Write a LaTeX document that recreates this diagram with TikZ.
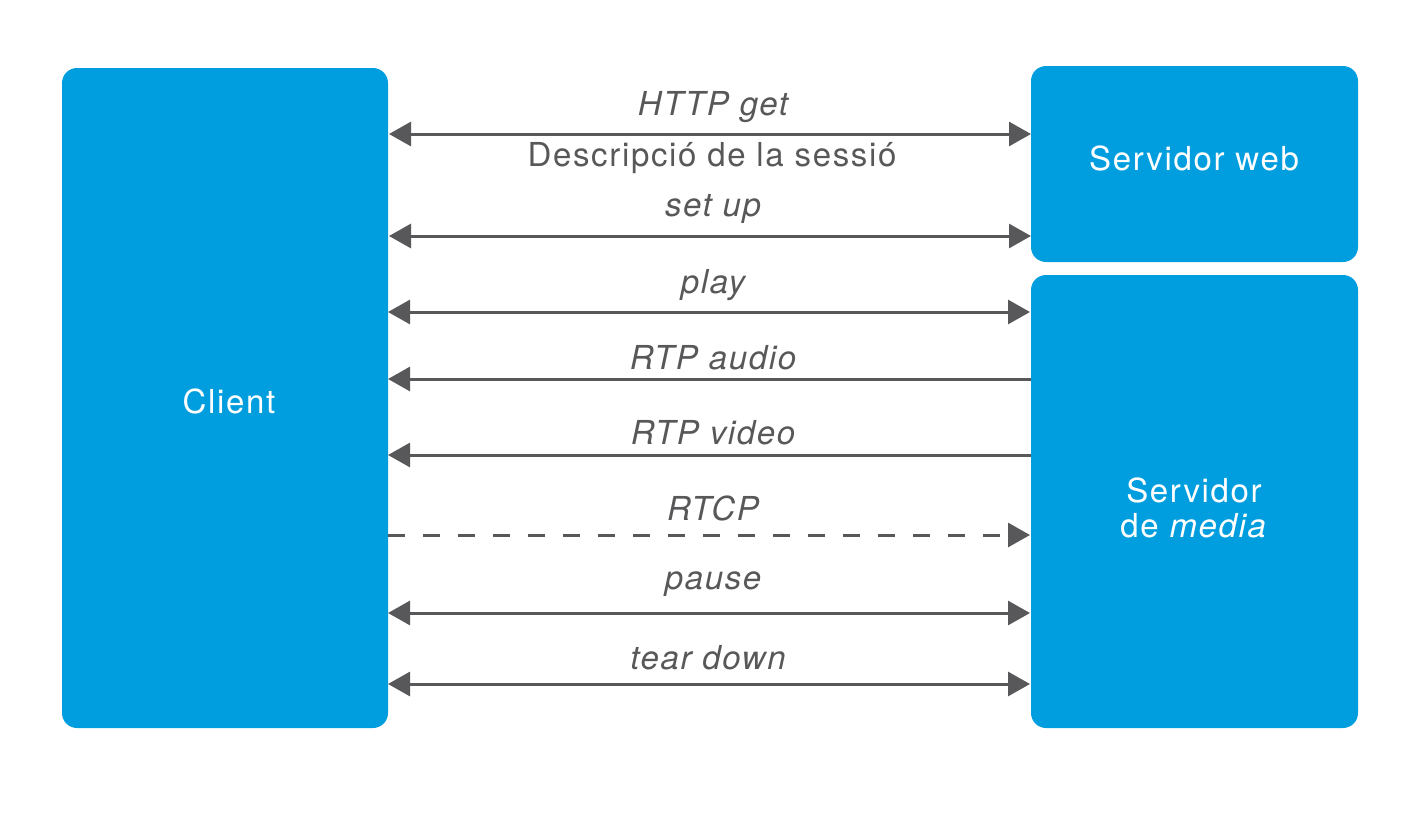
\documentclass[tikz,border=0pt]{standalone}
\usepackage{fontspec}
\setmainfont{TeX Gyre Heros}[LetterSpace=5]
\usetikzlibrary{arrows.meta}
\definecolor{boxblue}{RGB}{0,158,222}
\definecolor{arrgray}{RGB}{88,88,90}
\tikzset{
  box/.style={fill=boxblue, rounded corners=15pt, draw=none},
  boxtext/.style={text=white, font=\fontsize{33}{39}\selectfont, align=center},
  lbl/.style={text=arrgray, font=\fontsize{33}{39}\selectfont\itshape, inner sep=0pt},
  lblu/.style={text=arrgray, font=\fontsize{33}{39}\selectfont, inner sep=0pt},
  tip/.tip={Triangle[length=22pt,width=24pt]},
  link/.style={draw=arrgray, line width=3pt},
  both/.style={link, tip-tip},
  toleft/.style={link, tip-},
  toright/.style={link, -tip},
}
\begin{document}
\begin{tikzpicture}[x=1pt,y=-1pt]
\useasboundingbox (0,0) rectangle (1417,814);
% boxes
\path[box] (62,68) rectangle (388,728);
\path[box] (1031,66) rectangle (1358,262);
\path[box] (1031,275) rectangle (1358,728);
\node[boxtext] (client) at (229,401) {Client};
\node[boxtext] (web) at (1194,158) {Servidor web};
\node[boxtext] (media) at (1194,508) {Servidor\\[-4pt]de \textit{media}};
% anchor coordinates
\coordinate (cl1) at (389,134); \coordinate (cr1) at (1031,134);
\coordinate (cl2) at (389,236); \coordinate (cr2) at (1031,236);
\coordinate (cl3) at (388,312); \coordinate (cr3) at (1030,312);
\coordinate (cl4) at (388,379); \coordinate (cr4) at (1031,379);
\coordinate (cl5) at (388,455); \coordinate (cr5) at (1031,455);
\coordinate (cl6) at (388,535); \coordinate (cr6) at (1030,535);
\coordinate (cl7) at (388,613); \coordinate (cr7) at (1030,613);
\coordinate (cl8) at (388,684); \coordinate (cr8) at (1030,684);
\draw[both] (cl1) -- (cr1);
\draw[both] (cl2) -- (cr2);
\draw[both] (cl3) -- (cr3);
\draw[toleft] (cl4) -- (cr4);
\draw[toleft] (cl5) -- (cr5);
\draw[toright, dash pattern=on 17pt off 18pt] (cl6) -- (cr6);
\draw[both] (cl7) -- (cr7);
\draw[both] (cl8) -- (cr8);
% labels
\node[lbl] (l1) at (713,107) {HTTP get};
\node[lblu] (l1b) at (712,158) {Descripció de la sessió};
\node[lbl] (l2) at (713,209) {set up};
\node[lbl] (l3) at (713,285) {play};
\node[lbl] (l4) at (713,358) {RTP audio};
\node[lbl] (l5) at (713,433) {RTP video};
\node[lbl] (l6) at (713,508) {RTCP};
\node[lbl] (l7) at (713,584) {pause};
\node[lbl] (l8) at (708,658) {tear down};
\end{tikzpicture}
\end{document}
